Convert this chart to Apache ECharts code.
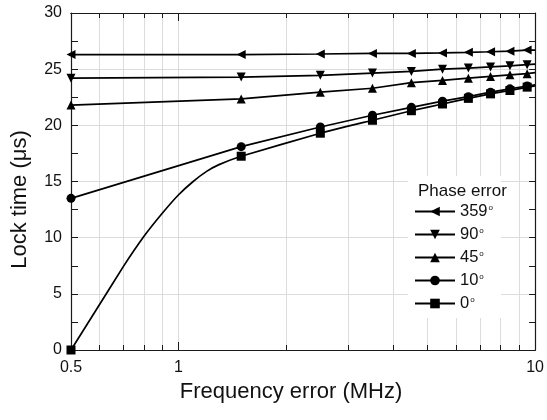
<!DOCTYPE html>
<html><head><meta charset="utf-8">
<script src="https://cdn.jsdelivr.net/npm/echarts@6/dist/echarts.min.js"></script>
<style>html,body{margin:0;padding:0;background:#fff}#c{width:547px;height:420px}</style>
</head><body><div id="c"></div>
<script>
// ---- data ----
const markerFreqs = [0.5, 1.5, 2.5, 3.5, 4.5, 5.5, 6.5, 7.5, 8.5, 9.5];
const freqs = [0.5, 1.5, 2.5, 3.5, 4.5, 5.5, 6.5, 7.5, 8.5, 9.5, 10];
const lt359 = [26.3, 26.3, 26.35, 26.4, 26.4, 26.45, 26.5, 26.55, 26.6, 26.7, 26.7];
const lt90  = [24.2, 24.3, 24.45, 24.65, 24.8, 25.0, 25.1, 25.2, 25.3, 25.4, 25.45];
const lt45  = [21.8, 22.35, 22.95, 23.3, 23.8, 24.0, 24.2, 24.35, 24.5, 24.6, 24.7];
const lt10  = [13.5, 18.1, 19.85, 20.9, 21.6, 22.15, 22.55, 22.95, 23.25, 23.5, 23.6];
const freq0 = [0.5, 0.6, 0.7, 0.8, 0.9, 1.0, 1.1, 1.2, 1.3, 1.5, 2.5, 3.5, 4.5, 5.5, 6.5, 7.5, 8.5, 9.5, 10];
const lt0   = [0, 4.0, 7.4, 10.1, 12.15, 13.8, 15.0, 15.9, 16.5, 17.25, 19.3, 20.45, 21.3, 21.9, 22.4, 22.8, 23.1, 23.4, 23.5];
const seriesNames = ['359°', '90°', '45°', '10°', '0°'];
const xMajorTicks = [0.5, 1, 10];
const xMinorTicks = [0.6, 0.7, 0.8, 0.9, 2, 3, 4, 5, 6, 7, 8, 9];
const yMin = 0, yMax = 30, yStep = 5;

const FONT = '"Liberation Sans", Arial, sans-serif';
const AX = '#1a1a1a';
const GRIDC = '#dcdcdc';

function pts(xs, ys) {
  return xs.map((x, i) => markerFreqs.includes(x) ? [x, ys[i]] : { value: [x, ys[i]], symbol: 'none' });
}
function mk(name, xs, ys, symbol, rot, smooth) {
  return {
    type: 'line', name, data: pts(xs, ys), symbol, symbolRotate: rot, symbolSize: 9,
    smooth: smooth || false,
    lineStyle: { color: '#000', width: 1.7 }, itemStyle: { color: '#000' },
    showAllSymbol: true, clip: true, animation: false, z: 3
  };
}

function xAx(pos, ticks, len, main) {
  return {
    type: 'log', logBase: 10, min: 0.5, max: 10, position: pos,
    axisLine: { show: true, onZero: false, lineStyle: { color: AX, width: 1.2 } },
    axisTick: { show: true, inside: true, length: len, customValues: ticks, lineStyle: { color: AX, width: 1 } },
    axisLabel: main && pos === 'bottom' ? {
      customValues: xMajorTicks, fontSize: 16, color: '#111', fontFamily: FONT, margin: 10,
      formatter: v => String(+(+v).toFixed(2))
    } : { show: false },
    splitLine: { show: true, lineStyle: { color: GRIDC, width: 1 } },
    name: main && pos === 'bottom' ? 'Frequency error (MHz)' : '',
    nameLocation: 'middle', nameGap: 31,
    nameTextStyle: { fontSize: 22, color: '#111', fontFamily: FONT, padding: [0, 24, 0, 0] }
  };
}

const chart = echarts.init(document.getElementById('c'));
chart.setOption({
  backgroundColor: '#fff',
  animation: false,
  grid: { left: 71, top: 13, right: 9, bottom: 70, containLabel: false },
  title: {
    text: 'Phase error', left: 413, top: 178, z: 20,
    textStyle: { fontSize: 17, fontWeight: 'normal', color: '#111', fontFamily: FONT }
  },
  legend: {
    orient: 'vertical', left: 408, top: 176, padding: [27, 8, 6, 6],
    backgroundColor: '#fff', itemWidth: 40, itemHeight: 12, itemGap: 6,
    data: seriesNames,
    formatter: n => '{v|' + n.replace('°', '') + '}{d|o}',
    textStyle: {
      color: '#111', fontFamily: FONT, fontSize: 16.5,
      rich: { v: { fontSize: 16.5, fontFamily: FONT, color: '#111', lineHeight: 18 },
              d: { fontSize: 8, fontFamily: FONT, color: '#111', lineHeight: 18, padding: [0, 0, 8, 1] } }
    }
  },
  xAxis: [
    xAx('bottom', xMajorTicks, 8, true),
    xAx('bottom', xMinorTicks, 5, false),
    xAx('top', xMajorTicks, 8, true),
    xAx('top', xMinorTicks, 5, false)
  ],
  yAxis: [
    {
      type: 'value', min: yMin, max: yMax, interval: yStep, position: 'left',
      axisLine: { show: true, onZero: false, lineStyle: { color: AX, width: 1.2 } },
      axisTick: { inside: true, length: 7, lineStyle: { color: AX } },
      minorTick: { show: true, splitNumber: 2, length: 7, lineStyle: { color: AX } },
      axisLabel: { fontSize: 16, color: '#111', fontFamily: FONT, margin: 9 },
      splitLine: { show: true, lineStyle: { color: GRIDC, width: 1 } },
      name: 'Lock time (μs)', nameLocation: 'middle', nameGap: 40,
      nameTextStyle: { fontSize: 22, color: '#111', fontFamily: FONT, padding: [0, 36, 0, 0] }
    },
    {
      type: 'value', min: yMin, max: yMax, interval: yStep / 2, position: 'right',
      axisLine: { show: true, onZero: false, lineStyle: { color: AX, width: 1.2 } },
      axisTick: { inside: true, length: 6, lineStyle: { color: AX } },
      axisLabel: { show: false }, splitLine: { show: false }
    }
  ],
  series: [
    mk(seriesNames[0], freqs, lt359, 'triangle', 90),
    mk(seriesNames[1], freqs, lt90, 'triangle', 180),
    mk(seriesNames[2], freqs, lt45, 'triangle', 0),
    mk(seriesNames[3], freqs, lt10, 'circle', 0),
    mk(seriesNames[4], freq0, lt0, 'rect', 0, 0.15)
  ]
});
</script></body></html>
